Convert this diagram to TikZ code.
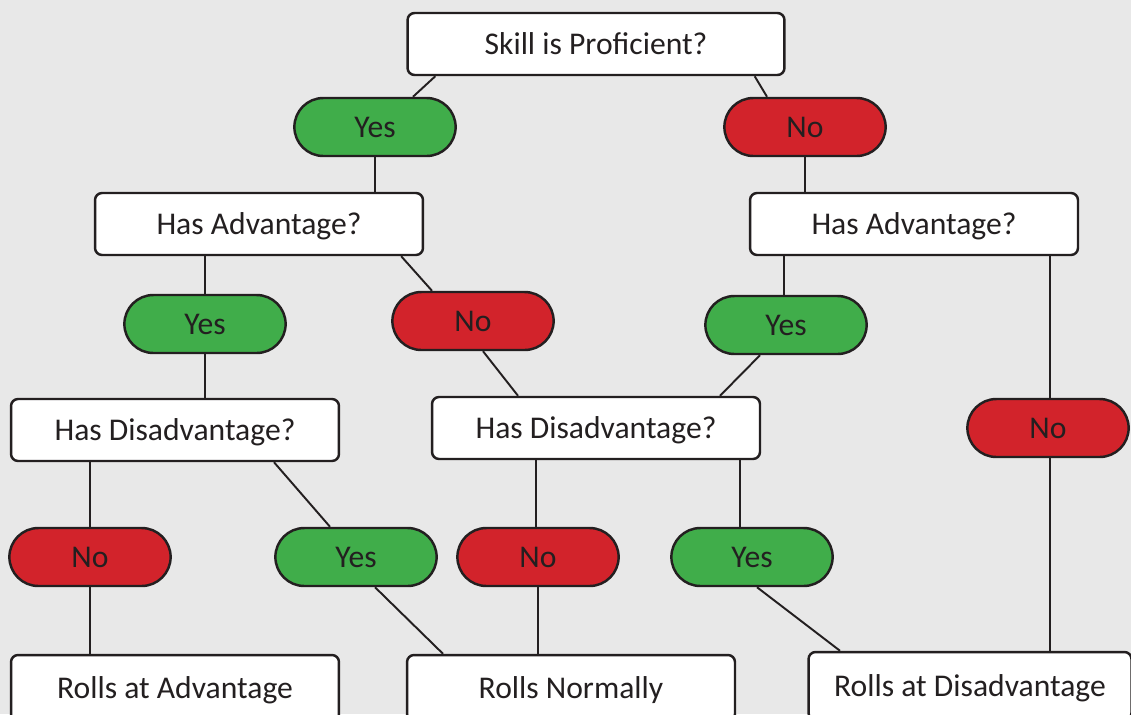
\documentclass[tikz,border=0pt]{standalone}
\usepackage{fontspec}
\setmainfont{Carlito}
\usetikzlibrary{shapes.misc,calc}

\definecolor{bggray}{HTML}{E8E8E8}
\definecolor{yesgreen}{HTML}{40AD4A}
\definecolor{nored}{HTML}{D2232B}
\definecolor{inkdark}{HTML}{231F20}

\tikzset{
	question/.style={shape=rectangle,draw=inkdark,fill=white,line width=1.4pt,rounded corners=4pt,
		minimum width=6.56cm,minimum height=1.24cm,font=\fontsize{18}{20}\selectfont,text=inkdark,
		text height=3ex,text depth=0.4ex},
	answer/.style={shape=rounded rectangle,draw=inkdark,line width=1.4pt,
		minimum width=3.46cm,minimum height=1.16cm,font=\fontsize{18}{20}\selectfont,text=inkdark,
		text height=3ex,text depth=0.4ex},
	yesbox/.style={answer,fill=yesgreen},
	nobox/.style={answer,fill=nored},
	link/.style={draw=inkdark,line width=1.1pt}
}

\begin{document}
\begin{tikzpicture}[x=0.02cm,y=-0.02cm]
	\fill[bggray] (0,0) rectangle (1131,714);
	\clip (0,0) rectangle (1131,714);
	\useasboundingbox (0,0) rectangle (1131,714);

	\node[question,minimum width=7.54cm] (skill) at (596,44) {Skill is Proficient?};
	\node[yesbox] (yesa) at (375,127) {Yes};
	\node[nobox] (noa) at (805,127) {No};
	\node[question] (advl) at (259,224) {Has Advantage?};
	\node[question] (advr) at (914,224) {Has Advantage?};
	\node[yesbox] (yesb) at (205,324) {Yes};
	\node[nobox] (nob) at (473,321) {No};
	\node[yesbox] (yesc) at (786,325) {Yes};
	\node[nobox] (noc) at (1048,428) {No};
	\node[question] (disl) at (175,430) {Has Disadvantage?};
	\node[question] (dism) at (596,428) {Has Disadvantage?};
	\node[nobox] (nod) at (90,557) {No};
	\node[yesbox] (yesd) at (356,557) {Yes};
	\node[nobox] (noe) at (538,557) {No};
	\node[yesbox] (yese) at (752,557) {Yes};
	\node[question,minimum height=1.32cm] (rolladv) at (175,688) {Rolls at Advantage};
	\node[question,minimum height=1.32cm] (rollnorm) at (571,688) {Rolls Normally};
	\node[question,minimum width=6.46cm,minimum height=1.36cm] (rolldis) at (970,686) {Rolls at Disadvantage};

	% connectors
	\path[link] ($(skill.south west)+(29,0)$) -- ($(yesa.north)+(38,0)$);
	\path[link] ($(skill.south east)+(-31,0)$) -- ($(noa.north)+(-38,0)$);
	\path[link] (yesa.south) -- (yesa.south |- advl.north);
	\path[link] (noa.south) -- (noa.south |- advr.north);
	\path[link] (yesb.north |- advl.south) -- (yesb.north);
	\path[link] ($(advl.south east)+(-23,0)$) -- ($(nob.north)+(-41,0)$);
	\path[link] ($(yesc.north |- advr.south)+(-2,0)$) -- ($(yesc.north)+(-2,0)$);
	\path[link] ($(noc.north |- advr.south)+(2,0)$) -- ($(noc.north)+(2,0)$);
	\path[link] (yesb.south) -- (yesb.south |- disl.north);
	\path[link] ($(nob.south)+(10,0)$) -- ($(dism.north)+(-78,0)$);
	\path[link] ($(yesc.south)+(-26,0)$) -- ($(dism.north)+(124,0)$);
	\path[link] (nod.north |- disl.south) -- (nod.north);
	\path[link] ($(disl.south)+(99,0)$) -- ($(yesd.north)+(-26,0)$);
	\path[link] ($(noe.north |- dism.south)+(-2,0)$) -- ($(noe.north)+(-2,0)$);
	\path[link] ($(yese.north |- dism.south)+(-12,0)$) -- ($(yese.north)+(-12,0)$);
	\path[link] (nod.south) -- (nod.south |- rolladv.north);
	\path[link] ($(yesd.south)+(19,0)$) -- ($(rollnorm.north)+(-128,0)$);
	\path[link] (noe.south) -- (noe.south |- rollnorm.north);
	\path[link] ($(yese.south)+(5,0)$) -- ($(rolldis.north)+(-130,0)$);
	\path[link] ($(noc.south)+(2,0)$) -- ($(noc.south |- rolldis.north)+(2,0)$);
\end{tikzpicture}
\end{document}
